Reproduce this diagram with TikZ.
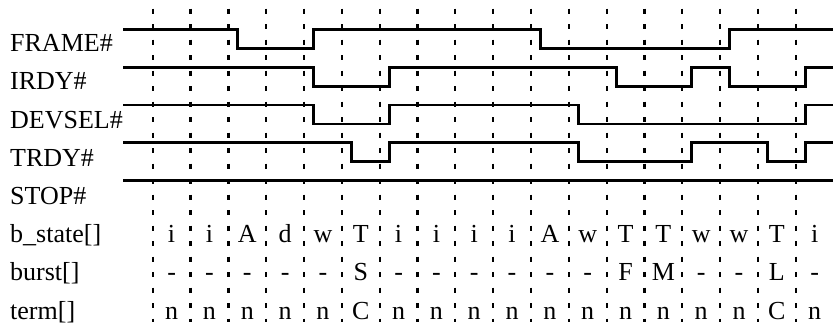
\documentclass[tikz,border=0pt]{standalone}
\usepackage{fontspec}
\setmainfont{Liberation Serif}
\usetikzlibrary{positioning}
\tikzset{
  sig label/.style={anchor=base west,inner sep=0pt,font=\fontsize{26}{30}\selectfont},
  cell/.style={anchor=base,inner sep=0pt,font=\fontsize{26}{30}\selectfont},
  wave/.style={line width=2.8pt,line join=miter},
  tick line/.style={line width=2.3pt,dash pattern=on 5pt off 10.5pt},
}
% x position of the k-th transition (a quarter period after the k-th tick)
\newcommand{\tedge}[1]{162.2+37.83*#1}

\begin{document}
\begin{tikzpicture}[x=1pt,y=-1pt]
  \useasboundingbox (0,0) rectangle (833,327);
  % clock ticks
  \foreach \k in {0,...,17}{
    \coordinate (top\k) at (152.7+37.83*\k,8.5);
    \coordinate (bot\k) at (152.7+37.83*\k,322);
    \draw[tick line] (top\k) -- (bot\k);
  }
  % signal names
  \foreach \i/\y/\w in {1/51.7/FRAME\#,2/89.9/IRDY\#,3/128.1/DEVSEL\#,4/166.3/TRDY\#,
                        5/204.5/STOP\#,6/242.7/b\_state[],7/280.9/burst[],8/319.1/term[]}{
    \node[sig label] (lab\i) at (10,\y) {\w};
  }
  % waveforms
  \draw[wave] (123.3,29.3) -| ({\tedge{2}},48.3) -| ({\tedge{4}},29.3)
    -| ({\tedge{10}},48.3) -| ({\tedge{15}},29.3) -- (833,29.3);
  \draw[wave] (123.3,67.1) -| ({\tedge{4}},86.1) -| ({\tedge{6}},67.1)
    -| ({\tedge{12}},86.1) -| ({\tedge{14}},67.1) -| ({\tedge{15}},86.1)
    -| ({\tedge{17}},67.1) -- (833,67.1);
  \draw[wave] (123.3,105) -| ({\tedge{4}},124) -| ({\tedge{6}},105)
    -| ({\tedge{11}},124) -| ({\tedge{17}},105) -- (833,105);
  \draw[wave] (123.3,142.8) -| ({\tedge{5}},161.8) -| ({\tedge{6}},142.8)
    -| ({\tedge{11}},161.8) -| ({\tedge{14}},142.8) -| ({\tedge{16}},161.8)
    -| ({\tedge{17}},142.8) -- (833,142.8);
  \draw[wave] (123.3,180.7) -- (833,180.7);
  % per-cycle values
  \foreach \k/\s/\b/\t in {0/i/-/n,1/i/-/n,2/A/-/n,3/d/-/n,4/w/-/n,5/T/S/C,
                           6/i/-/n,7/i/-/n,8/i/-/n,9/i/-/n,10/A/-/n,11/w/-/n,
                           12/T/F/n,13/T/M/n,14/w/-/n,15/w/-/n,16/T/L/C,17/i/-/n}{
    \node[cell] (st\k) at (171.6+37.83*\k,242.7) {\s};
    \node[cell] (bu\k) at (171.6+37.83*\k,280.9) {\b};
    \node[cell] (te\k) at (171.6+37.83*\k,319.1) {\t};
  }
\end{tikzpicture}
\end{document}
